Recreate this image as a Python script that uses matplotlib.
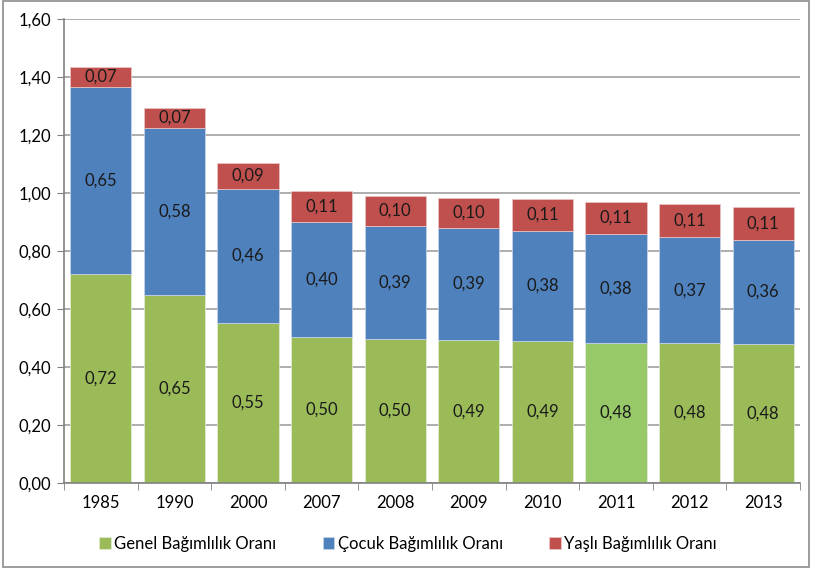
import matplotlib.pyplot as plt
import numpy as np
from matplotlib.patches import Rectangle

years = ['1985', '1990', '2000', '2007', '2008', '2009', '2010', '2011', '2012', '2013']
genel = [0.72, 0.648, 0.552, 0.503, 0.497, 0.493, 0.49, 0.484, 0.482, 0.479]
cocuk = [0.646, 0.576, 0.462, 0.398, 0.389, 0.386, 0.379, 0.375, 0.366, 0.359]
yasli = [0.068, 0.069, 0.089, 0.106, 0.104, 0.104, 0.11, 0.11, 0.113, 0.114]
series_names = ['Genel Bağımlılık Oranı', 'Çocuk Bağımlılık Oranı', 'Yaşlı Bağımlılık Oranı']

plt.rcParams['font.family'] = ['Lato', 'DejaVu Sans']
W, H = 816, 573
fig = plt.figure(figsize=(W / 100, H / 100), dpi=100)
ax = fig.add_axes([64 / W, (H - 483) / H, (800 - 64) / W, (483 - 19) / H])

x = np.arange(len(years))
green = ['#9BBB59'] * len(years)
green[7] = '#98C968'
b1 = ax.bar(x, genel, 0.83, color=green, edgecolor='#E6EEDA', linewidth=0.5, label=series_names[0], zorder=2)
b2 = ax.bar(x, cocuk, 0.83, bottom=genel, color='#4F81BD', edgecolor='#C9D6EA', linewidth=0.5, label=series_names[1], zorder=2)
bot2 = np.array(genel) + np.array(cocuk)
b3 = ax.bar(x, yasli, 0.83, bottom=bot2, color='#C0504D', edgecolor='#EBC9C8', linewidth=0.5, label=series_names[2], zorder=2)

fmt = lambda v: ('%.2f' % v).replace('.', ',')
for bars, vals in [(b1, genel), (b2, cocuk), (b3, yasli)]:
    ax.bar_label(bars, labels=[fmt(v) for v in vals], label_type='center', fontsize=12, color='#1a1a1a')

ax.set_xlim(-0.5, len(years) - 0.5)
ax.set_ylim(0, 1.6)
yt = np.arange(0, 1.61, 0.2)
ax.set_yticks(yt)
ax.set_yticklabels([fmt(v) for v in yt], fontsize=12)
ax.set_xticks(x)
ax.set_xticklabels(years, fontsize=12)
ax.set_xticks(np.arange(-0.5, len(years), 1), minor=True)
ax.tick_params(axis='x', which='major', length=0, pad=9)
ax.tick_params(axis='x', which='minor', length=5, color='#808080')
ax.tick_params(axis='y', length=5, color='#808080', pad=4)
ax.yaxis.grid(True, color='#A0A0A0', linewidth=1.2, zorder=0)
ax.set_axisbelow(True)
for s in ['top', 'right']:
    ax.spines[s].set_visible(False)
for s in ['left', 'bottom']:
    ax.spines[s].set_color('#808080')
    ax.spines[s].set_linewidth(1.2)

fig.legend(handles=[b1, b2, b3], labels=series_names, loc='center', bbox_to_anchor=(0.5, (H - 544) / H),
           ncol=3, frameon=False, fontsize=12, handlelength=0.7, handleheight=0.7, handletextpad=0.2, columnspacing=2.8)
fig.patches.append(Rectangle((3 / W, 6 / H), 806 / W, 566 / H, transform=fig.transFigure,
                             fill=False, edgecolor='#8c8c8c', linewidth=1.2))

fig.savefig('out.png', dpi=100)
